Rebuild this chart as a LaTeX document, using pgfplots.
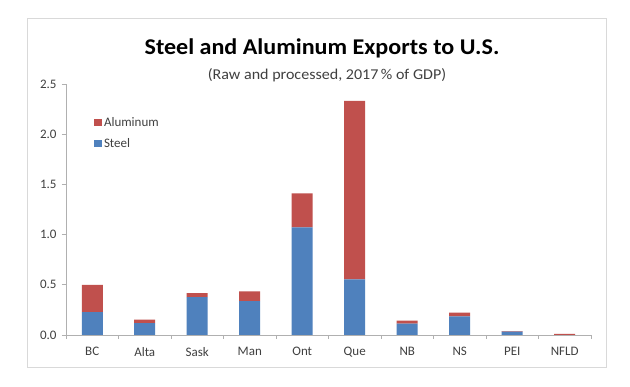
\documentclass[border=0pt]{standalone}
\usepackage{fontspec}
\setmainfont{Carlito}
\newfontfamily\titlefont{Carlito}[FakeStretch=1.07]
\usepackage{pgfplots}
\usepackage{pgfplotstable}
\pgfplotsset{compat=1.18}
\definecolor{steel}{HTML}{4F81BD}
\definecolor{alum}{HTML}{C0504D}
\definecolor{framec}{HTML}{D9D9D9}
\definecolor{axgray}{HTML}{B0B0B0}
\definecolor{txt}{HTML}{404040}
\pgfplotstableread{
x steel alum
0 0.228 0.27
1 0.119 0.033
2 0.377 0.040
3 0.338 0.096
4 1.073 0.337
5 0.553 1.780
6 0.113 0.029
7 0.185 0.037
8 0.033 0.006
9 0.000 0.012
}\data
\begin{document}
\begin{tikzpicture}[x=1pt,y=1pt]
\fill[white] (0,0) rectangle (630,387);
\draw[framec, line width=1pt] (27,19) rectangle (606,368);
\node[anchor=base, inner sep=0pt, font=\titlefont\fontsize{22.5}{26}\selectfont\bfseries, text=black] at (322,332) {Steel and Aluminum Exports to U.S.};
\node[anchor=base, inner sep=0pt, font=\titlefont\fontsize{15}{18}\selectfont, text=txt] at (327,307) {(Raw and processed, 2017\,\% of GDP)};
\begin{axis}[
  at={(66pt,52pt)}, anchor=south west,
  scale only axis, width=525pt, height=251pt,
  ybar stacked, bar width=21pt,
  xmin=-0.5, xmax=9.5, ymin=0, ymax=2.5,
  axis x line=bottom, axis y line=left,
  axis line style={-, axgray, line width=0.8pt},
  xtick={0,...,9},
  xticklabels={BC,Alta,Sask,Man,Ont,Que,NB,NS,PEI,NFLD},
  major x tick style={draw=none},
  minor xtick={-0.5,0.5,...,9.5},
  minor x tick style={axgray, line width=0.8pt},
  minor tick length=4pt,
  ytick={0,0.5,...,2.5},
  y tick style={axgray, line width=0.8pt},
  major tick length=4pt,
  tick align=outside,
  y tick label style={/pgf/number format/fixed, /pgf/number format/fixed zerofill, /pgf/number format/precision=1, xshift=-2pt},
  /pgf/number format/assume math mode=true,
  tick label style={font=\fontsize{13}{15}\selectfont, text=txt},
  x tick label style={yshift=-5pt},
  reverse legend,
  legend style={draw=none, fill=none, at={(0.053,0.877)}, anchor=north west,
    inner sep=0pt,
    font=\fontsize{13}{15}\selectfont, text=txt, row sep=7pt,
    /tikz/every even column/.append style={column sep=0pt}},
  legend cell align=left,
]
\addplot[fill=steel, draw=none,
  legend image code/.code={\fill[steel] (0pt,-3.5pt) rectangle (8pt,3.5pt);}]
  table[x=x, y=steel] {\data};
\addplot[fill=alum, draw=none,
  legend image code/.code={\fill[alum] (0pt,-3.5pt) rectangle (8pt,3.5pt);}]
  table[x=x, y=alum] {\data};
\legend{Steel, Aluminum}
\end{axis}
\end{tikzpicture}
\end{document}
